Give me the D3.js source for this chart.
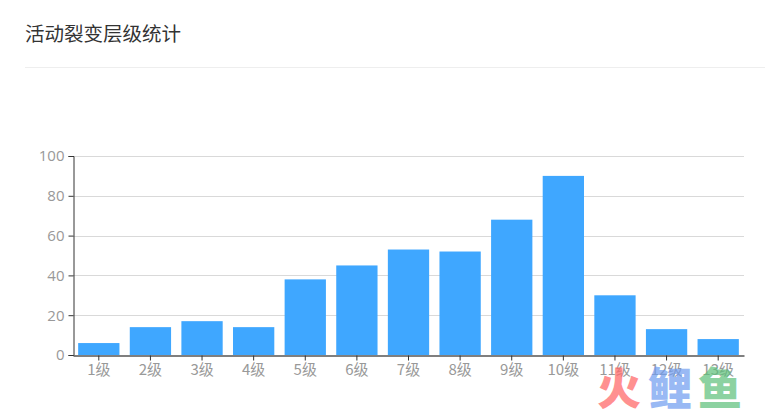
<!DOCTYPE html>
<html><head><meta charset="utf-8">
<script src="https://cdn.jsdelivr.net/npm/d3@7"></script>
<style>body{margin:0;background:#fff;font-family:"Noto Sans CJK SC","Open Sans",sans-serif;}</style>
</head><body><svg id="c" width="765" height="411"></svg>
<script>
const categories = ["1级","2级","3级","4级","5级","6级","7级","8级","9级","10级","11级","12级","13级"];
const values = [6,14,17,14,38,45,53,52,68,90,30,13,8];
const yTicks = [0,20,40,60,80,100];
const title = "活动裂变层级统计";

const svg = d3.select("#c");
const m = {l:73, r:744, t:156, b:355};
svg.append("text").attr("x",25).attr("y",41).attr("font-size",19.5).attr("fill","#333")
  .attr("font-family","Noto Sans CJK SC").text(title);
svg.append("line").attr("x1",25).attr("x2",765).attr("y1",67.5).attr("y2",67.5).attr("stroke","#eee");

const x = d3.scaleBand().domain(categories).range([m.l,m.r]).paddingInner(0.2).paddingOuter(0.1);
const y = d3.scaleLinear().domain([0,100]).range([m.b,m.t]);

const grid = svg.append("g");
grid.selectAll("line").data(yTicks.filter(d=>d>0)).join("line")
  .attr("x1",m.l).attr("x2",m.r).attr("y1",d=>Math.round(y(d))+0.5).attr("y2",d=>Math.round(y(d))+0.5)
  .attr("stroke","#d9d9d9");

svg.append("g").selectAll("rect").data(values).join("rect")
  .attr("x",(d,i)=>x(categories[i])).attr("width",x.bandwidth())
  .attr("y",d=>y(d)).attr("height",d=>y(0)-y(d)).attr("fill","#3fa7ff");

const ya = svg.append("g").attr("transform",`translate(${m.l+0.5},0)`)
  .call(d3.axisLeft(y).tickValues(yTicks).tickSize(5).tickPadding(4));
ya.select(".domain").attr("stroke","#333");
ya.selectAll(".tick line").attr("stroke","#333");
ya.selectAll("text").attr("fill","#999").attr("font-size",15).attr("font-family","Open Sans");

const xa = svg.append("g").attr("transform",`translate(0,${m.b+0.5})`)
  .call(d3.axisBottom(x).tickSize(5).tickSizeOuter(0).tickPadding(4));
xa.select(".domain").attr("stroke","#555").attr("stroke-width",1.5);
xa.selectAll(".tick line").attr("stroke","#333");
xa.selectAll("text").attr("fill","#999").attr("font-size",15).attr("font-family","Noto Sans CJK SC");

// watermark
const wm = svg.append("g").attr("font-family","Noto Sans CJK SC").attr("font-weight","900").attr("font-size",44);
wm.append("text").attr("x",597).attr("y",405).attr("fill","#ff6b6b").attr("opacity",0.75).text("火");
wm.append("text").attr("x",648).attr("y",405).attr("fill","#6f9cf0").attr("opacity",0.7).text("鲤");
wm.append("text").attr("x",698).attr("y",405).attr("fill","#5cc07a").attr("opacity",0.7).text("鱼");
</script></body></html>
